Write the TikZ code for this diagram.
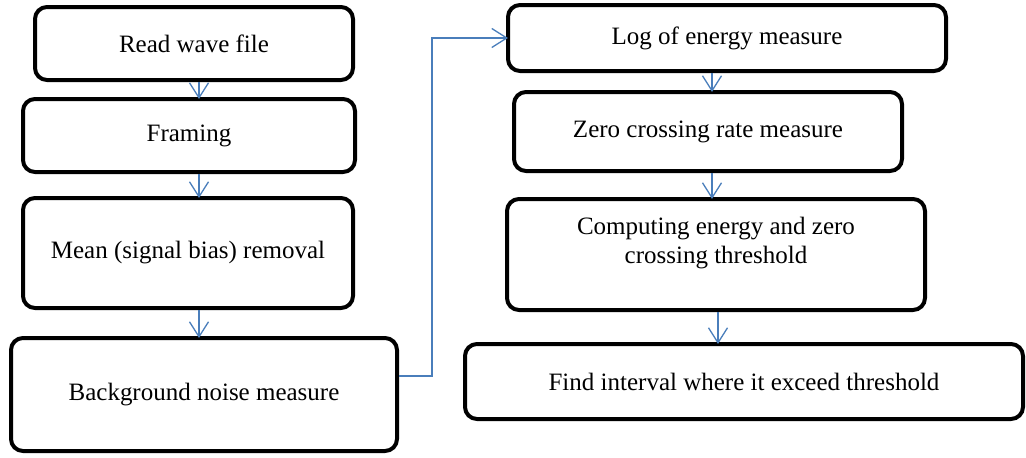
\documentclass[tikz,border=0pt]{standalone}
\usepackage{fontspec}
\setmainfont{Liberation Serif}
\usepackage{tikz}
\usetikzlibrary{positioning,arrows.meta,calc}
\definecolor{lineBlue}{HTML}{4A7EBB}
\tikzset{
  stage/.style={rectangle, rounded corners=12pt, draw=black, line width=4pt, fill=white,
                align=center, inner sep=2pt, font=\fontsize{25}{29}\selectfont},
  flow/.style={-{Straight Barb[length=15pt,width=19pt]}, line width=1.3pt, draw=lineBlue,
               shorten >=-2pt}
}
\begin{document}
\begin{tikzpicture}[x=1pt,y=-1pt]
\useasboundingbox (0,0) rectangle (1026,458);
\node[stage, minimum width=318pt, minimum height=73pt] (read) at (194,43.5) {Read wave file};
\node[stage, minimum width=332pt, minimum height=73pt] (framing) at (189,135.5) {Framing};
\node[stage, minimum width=330pt, minimum height=110pt] (mean) at (188,253) {Mean (signal bias) removal};
\node[stage, minimum width=386pt, minimum height=113pt] (noise) at (204,394.5) {Background noise measure};
\node[stage, minimum width=438pt, minimum height=66pt] (logenergy) at (727,38) {Log of energy measure};
\node[stage, minimum width=388pt, minimum height=79pt] (zcr) at (708,131.5) {Zero crossing rate measure};
\node[stage, minimum width=418pt, minimum height=111pt] (threshold) at (716,254.5) {Computing energy and zero\\crossing threshold\\\mbox{}};
\node[stage, minimum width=558pt, minimum height=75pt] (interval) at (744,381.5) {Find interval where it exceed threshold};
\coordinate (leftcol) at (199,0);
\coordinate (rightcol) at (712,0);
\coordinate (lastcol) at (718,0);
\coordinate (turn) at (432,376);
\draw[flow] (read.south -| leftcol) -- (framing.north -| leftcol);
\draw[flow] (framing.south -| leftcol) -- (mean.north -| leftcol);
\draw[flow] (mean.south -| leftcol) -- (noise.north -| leftcol);
\draw[flow] (noise.east |- turn) -- (turn) |- (logenergy.west);
\draw[flow] (logenergy.south -| rightcol) -- (zcr.north -| rightcol);
\draw[flow] (zcr.south -| rightcol) -- (threshold.north -| rightcol);
\draw[flow] (threshold.south -| lastcol) -- (interval.north -| lastcol);
\end{tikzpicture}
\end{document}
